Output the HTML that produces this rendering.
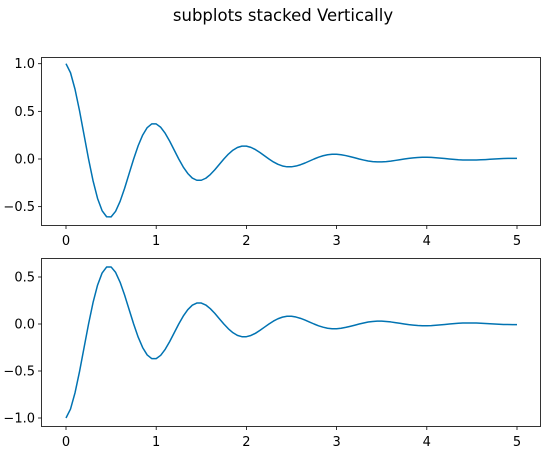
<!DOCTYPE html>
<html><head><meta charset="utf-8"><style>
body{margin:0;background:#fff}
svg{display:block;font-family:"DejaVu Sans","Liberation Sans",sans-serif}
</style></head><body>
<svg width="545" height="453">
<text x="283" y="21" font-size="16.5" text-anchor="middle">subplots stacked Vertically</text>
<g id="ax1"></g>
<g id="ax2"></g>
</svg>
<script>
const xStep = 0.05;
const xTicks = [0,1,2,3,4,5];
const y1Ticks = [1.0,0.5,0.0,-0.5];
const y2Ticks = [0.5,0.0,-0.5,-1.0];
const y1 = [1,.905,.732,.506,.253,0,-.229,-.414,-.542,-.606,-.607,-.549,-.444,-.307,-.153,0,.139,.251,.329,.368,
.368,.333,.269,.186,.093,0,-.084,-.152,-.200,-.223,-.223,-.202,-.163,-.113,-.056,0,.051,.092,.121,.135,
.135,.122,.099,.068,.034,0,-.031,-.056,-.073,-.082,-.082,-.074,-.060,-.042,-.021,0,.019,.034,.045,.050,
.050,.045,.036,.025,.013,0,-.011,-.021,-.027,-.030,-.030,-.027,-.022,-.015,-.008,0,.007,.012,.016,.018,
.018,.017,.013,.009,.005,0,-.004,-.008,-.010,-.011,-.011,-.010,-.008,-.006,-.003,0,.003,.005,.006,.007,.007];
const y2 = [-1,-.905,-.732,-.506,-.253,0,.229,.414,.542,.606,.607,.549,.444,.307,.153,0,-.139,-.251,-.329,-.368,
-.368,-.333,-.269,-.186,-.093,0,.084,.152,.200,.223,.223,.202,.163,.113,.056,0,-.051,-.092,-.121,-.135,
-.135,-.122,-.099,-.068,-.034,0,.031,.056,.073,.082,.082,.074,.060,.042,.021,0,-.019,-.034,-.045,-.050,
-.050,-.045,-.036,-.025,-.013,0,.011,.021,.027,.030,.030,.027,.022,.015,.008,0,-.007,-.012,-.016,-.018,
-.018,-.017,-.013,-.009,-.005,0,.004,.008,.010,.011,.011,.010,.008,.006,.003,0,-.003,-.005,-.006,-.007,-.007];
const NS="http://www.w3.org/2000/svg";
function mk(tag,attrs,parent){const e=document.createElementNS(NS,tag);for(const k in attrs)e.setAttribute(k,attrs[k]);parent.appendChild(e);return e;}
const sx = v => 66 + v*90.2;
function draw(g, top, bottom, ys, ticks, y0px, yScale, prefix){
  const sy = v => y0px - v*yScale;
  mk('rect',{x:41.5,y:top+.5,width:499,height:bottom-top,fill:'none',stroke:'#000','stroke-width':0.8},g);
  xTicks.forEach(t=>{
    const l=mk('line',{x1:sx(t),x2:sx(t),y1:bottom+.5,y2:bottom+4,stroke:'#000','stroke-width':0.8},g);
    
    
    const tx=mk('text',{x:sx(t),y:bottom+20,'font-size':13,'text-anchor':'middle'},g);
    tx.textContent=String(t);
    
    
  });
  ticks.forEach(t=>{
    mk('line',{x1:38,x2:41.5,y1:sy(t),y2:sy(t),stroke:'#000','stroke-width':0.8},g);
    const tx=mk('text',{x:35,y:sy(t)+4.5,'font-size':13,'text-anchor':'end'},g);
    tx.textContent=(t<0?'\u2212':'')+Math.abs(t).toFixed(1);
    
    
  });
  const d=ys.map((v,i)=>(i?'L':'M')+sx(i*xStep).toFixed(2)+','+sy(v).toFixed(2)).join('');
  const p=mk('path',{d:d,fill:'none',stroke:'#0173b2','stroke-width':1.5,'stroke-linejoin':'round'},g);
  
  
}
draw(document.getElementById('ax1'),57,225,y1,y1Ticks,159,95.3,'top-');
draw(document.getElementById('ax2'),258,426,y2,y2Ticks,324,94,'bottom-');
</script>
</body></html>
